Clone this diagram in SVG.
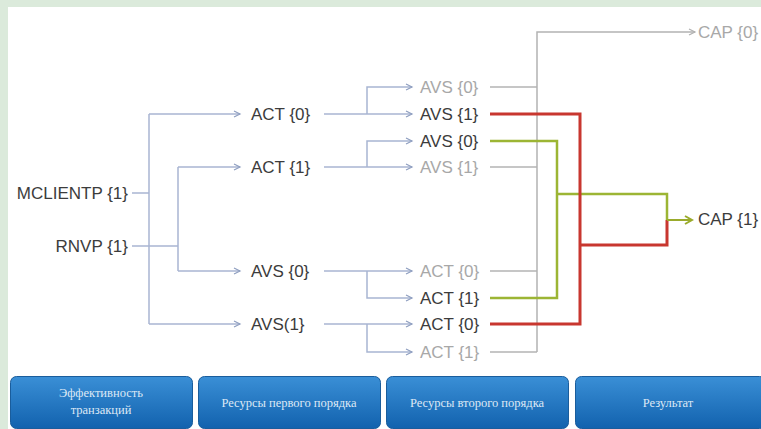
<svg xmlns="http://www.w3.org/2000/svg" width="761" height="429" viewBox="0 0 761 429">
<defs>
<marker id="ah" markerWidth="10" markerHeight="10" refX="8" refY="5" orient="auto" markerUnits="userSpaceOnUse">
<path d="M2,2 L8,5 L2,8" fill="none" stroke="#8f9fc0" stroke-width="1.2"/>
</marker>
<marker id="ahg" markerWidth="10" markerHeight="10" refX="8" refY="5" orient="auto" markerUnits="userSpaceOnUse">
<path d="M2,2 L8,5 L2,8" fill="none" stroke="#b0b0b0" stroke-width="1.2"/>
</marker>
<marker id="aho" markerWidth="12" markerHeight="12" refX="10" refY="6" orient="auto" markerUnits="userSpaceOnUse">
<path d="M3,2 L10,6 L3,10" fill="none" stroke="#9aab2c" stroke-width="2"/>
</marker>
<linearGradient id="bg" x1="0" y1="0" x2="0" y2="1">
<stop offset="0" stop-color="#3a8fd6"/>
<stop offset="1" stop-color="#1262ae"/>
</linearGradient>
</defs>
<style>
.t{font-family:"Liberation Sans",Arial,sans-serif;font-size:17px;dominant-baseline:central}
.d{fill:#3c3c3c}
.g{fill:#a8a8a8}
.c{fill:none;stroke:#a8b5d2;stroke-width:1.5}
.cg{fill:none;stroke:#b3b3b3;stroke-width:1.5}
.r{fill:none;stroke:#c8372f;stroke-width:3}
.gr{fill:none;stroke:#9cb534;stroke-width:2.5}
.box{fill:url(#bg);stroke:#1a5d9c;stroke-width:1}
.bt{font-family:"Liberation Serif","Times New Roman",serif;font-size:12.5px;fill:#dde8f5;text-anchor:middle}
</style>
<rect x="0" y="0" width="761" height="429" fill="#ffffff"/>
<rect x="0" y="0" width="761" height="7" fill="#dbeadb"/>
<rect x="0" y="0" width="8" height="429" fill="#dbeadb"/>

<g id="connectors">
<path class="c" d="M132,193 H149"/>
<path class="c" d="M132,246 H178"/>
<path class="c" d="M149,114 V324"/>
<path class="c" d="M178,167 V271"/>
<path class="c" d="M149,114 H240" marker-end="url(#ah)"/>
<path class="c" d="M178,167 H240" marker-end="url(#ah)"/>
<path class="c" d="M178,271 H240" marker-end="url(#ah)"/>
<path class="c" d="M149,324 H240" marker-end="url(#ah)"/>
<path class="c" d="M324,114 H412" marker-end="url(#ah)"/>
<path class="c" d="M367,114 V87 H412" marker-end="url(#ah)"/>
<path class="c" d="M324,167 H412" marker-end="url(#ah)"/>
<path class="c" d="M367,167 V141 H412" marker-end="url(#ah)"/>
<path class="c" d="M324,271 H412" marker-end="url(#ah)"/>
<path class="c" d="M367,271 V298 H412" marker-end="url(#ah)"/>
<path class="c" d="M324,324 H412" marker-end="url(#ah)"/>
<path class="c" d="M367,324 V352 H412" marker-end="url(#ah)"/>
<path class="cg" d="M490,87 H537"/>
<path class="cg" d="M490,167 H537"/>
<path class="cg" d="M490,271 H537"/>
<path class="cg" d="M490,352 H537"/>
<path class="cg" d="M537,352 V32 H695" marker-end="url(#ahg)"/>
<path class="gr" d="M490,141 H557 V298 H490"/>
<path class="gr" d="M557,194 H667 V220"/>
<path class="r" d="M490,114 H580 V324 H490"/>
<path class="r" d="M580,245 H667 V220"/>
<path d="M667,220 H692" fill="none" stroke="#9aab2c" stroke-width="2" marker-end="url(#aho)"/>
</g>

<g id="n-mclientp"><text class="t d" x="128" y="193" text-anchor="end">MCLIENTP {1}</text></g>
<g id="n-rnvp"><text class="t d" x="128" y="246" text-anchor="end">RNVP {1}</text></g>
<g id="n-act0"><text class="t d" x="251" y="114">ACT {0}</text></g>
<g id="n-act1"><text class="t d" x="251" y="167">ACT {1}</text></g>
<g id="n-avs0"><text class="t d" x="251" y="271">AVS {0}</text></g>
<g id="n-avs1"><text class="t d" x="251" y="324">AVS(1}</text></g>
<g id="n-r1"><text class="t g" x="420" y="87">AVS {0}</text></g>
<g id="n-r2"><text class="t d" x="420" y="114">AVS {1}</text></g>
<g id="n-r3"><text class="t d" x="420" y="141">AVS {0}</text></g>
<g id="n-r4"><text class="t g" x="420" y="167">AVS {1}</text></g>
<g id="n-r5"><text class="t g" x="420" y="271">ACT {0}</text></g>
<g id="n-r6"><text class="t d" x="420" y="298">ACT {1}</text></g>
<g id="n-r7"><text class="t d" x="420" y="324">ACT {0}</text></g>
<g id="n-r8"><text class="t g" x="420" y="352">ACT {1}</text></g>
<g id="n-cap0"><text class="t g" x="698" y="32">CAP {0}</text></g>
<g id="n-cap1"><text class="t d" x="698" y="219">CAP {1}</text></g>

<g id="b1"><rect class="box" x="10.5" y="376.5" width="182" height="52" rx="6"/>
<text class="bt" x="101" y="397">Эффективность</text><text class="bt" x="101" y="414">транзакций</text></g>
<g id="b2"><rect class="box" x="198.5" y="376.5" width="182" height="52" rx="6"/>
<text class="bt" x="289" y="407">Ресурсы первого порядка</text></g>
<g id="b3"><rect class="box" x="386.5" y="376.5" width="182" height="52" rx="6"/>
<text class="bt" x="477" y="407">Ресурсы второго порядка</text></g>
<g id="b4"><rect class="box" x="575.5" y="376.5" width="190" height="52" rx="6"/>
<text class="bt" x="668" y="407">Результат</text></g>
</svg>
